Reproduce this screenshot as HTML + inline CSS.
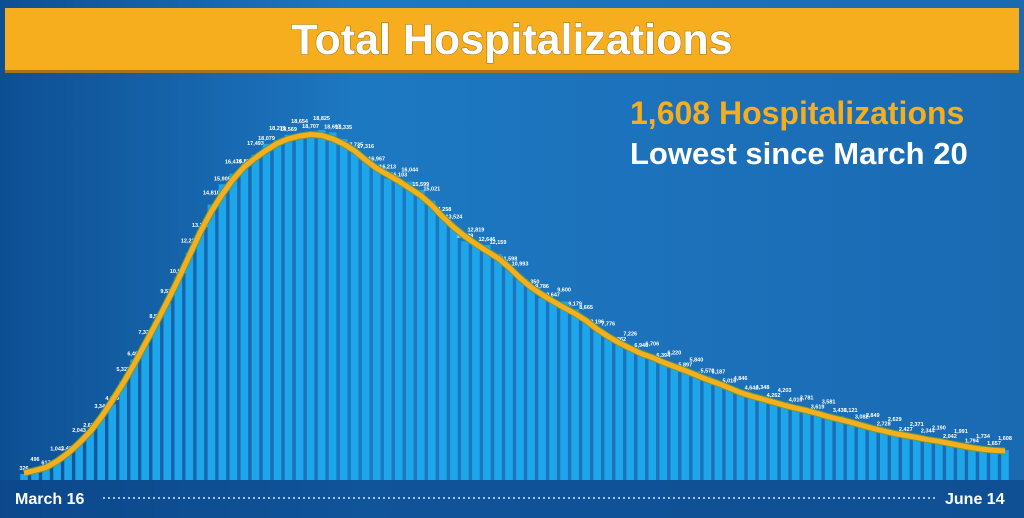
<!DOCTYPE html>
<html><head><meta charset="utf-8"><style>
html,body{margin:0;padding:0;width:1024px;height:518px;overflow:hidden;}
body{background:#1a6cb3;font-family:"Liberation Sans",sans-serif;}
</style></head><body>
<svg id="s" width="1024" height="518" viewBox="0 0 1024 518" xmlns="http://www.w3.org/2000/svg">
<defs><linearGradient id="bg" x1="0" y1="0" x2="1" y2="0">
<stop offset="0" stop-color="#0e4f93"/><stop offset="0.35" stop-color="#1d78c2"/><stop offset="1" stop-color="#1a6ab2"/></linearGradient></defs>
<rect width="1024" height="518" fill="url(#bg)"/>
<rect x="0" y="480" width="1024" height="38" fill="#0c4488" opacity="0.7"/>
<rect x="5" y="8" width="1014" height="64" fill="#f6ae1f"/>
<rect x="5" y="70" width="1014" height="3" fill="#a8741a"/>
<text x="512" y="54" text-anchor="middle" font-size="43" font-weight="bold" fill="#fff" font-family="Liberation Sans,sans-serif" stroke="#9b6a10" stroke-width="1" style="paint-order:stroke">Total Hospitalizations</text>
<g id="bars"></g>
<text x="630" y="124" font-size="32" font-weight="bold" fill="#f6ae1f" font-family="Liberation Sans,sans-serif">1,608 Hospitalizations</text>
<text x="630" y="164" font-size="31" font-weight="bold" fill="#fff" font-family="Liberation Sans,sans-serif">Lowest since March 20</text>
<text x="15" y="504" font-size="16" font-weight="bold" fill="#fff" font-family="Liberation Sans,sans-serif">March 16</text>
<text x="945" y="504" font-size="16" font-weight="bold" fill="#fff" font-family="Liberation Sans,sans-serif">June 14</text>
<line x1="103" y1="498" x2="936" y2="498" stroke="#9cc4ea" stroke-width="2" stroke-dasharray="2,3"/>
</svg>
<script>
var d=[326,496,617,1042,1406,2043,2629,3343,4079,5327,6481,7328,8503,9517,10929,12226,13383,14810,15905,16479,16837,17493,18079,18279,18569,18654,18707,18825,18697,18335,17735,17316,16967,16213,16103,16044,15599,15021,14258,13524,12839,12819,12646,12159,11598,10993,10350,9786,9647,9600,9179,8665,8196,7776,7262,7226,6946,6706,6394,6220,5897,5840,5570,5187,5016,4846,4642,4348,4262,4203,4010,3781,3619,3581,3436,3121,3082,2849,2728,2629,2427,2371,2344,2190,2042,1991,1794,1734,1657,1608];
var g=document.getElementById('bars');
var x0=24,x1=1005,n=d.length,p=(x1-x0)/(n-1),base=480,k=350/18825,h='',pts=[];
for(var i=0;i<n;i++){var x=x0+i*p,y=base-d[i]*k;
h+='<rect x="'+(x-3.8).toFixed(1)+'" y="'+y.toFixed(1)+'" width="7.6" height="'+(base-y).toFixed(1)+'" fill="#1ea6ea"/>';
h+='<text x="'+x.toFixed(1)+'" y="'+(y-4-(i%2)*6).toFixed(1)+'" font-size="5.5" font-weight="bold" fill="#fff" text-anchor="middle" font-family="Liberation Sans,sans-serif">'+d[i].toLocaleString('en-US')+'</text>';
pts.push([x,y+2]);}
var sm=[];for(i=0;i<n;i++){var s=0,c=0;for(var j=-2;j<=2;j++){if(d[i+j]!==undefined){s+=pts[i+j][1];c++;}}sm.push(pts[i][0].toFixed(1)+','+(s/c).toFixed(1));}
h+='<polyline points="'+sm.join(' ')+'" fill="none" stroke="#6a9a3a" stroke-width="7" stroke-linejoin="round"/>';
h+='<polyline points="'+sm.join(' ')+'" fill="none" stroke="#f6ae1f" stroke-width="5" stroke-linejoin="round"/>';
g.innerHTML=h;
</script>
</body></html>
